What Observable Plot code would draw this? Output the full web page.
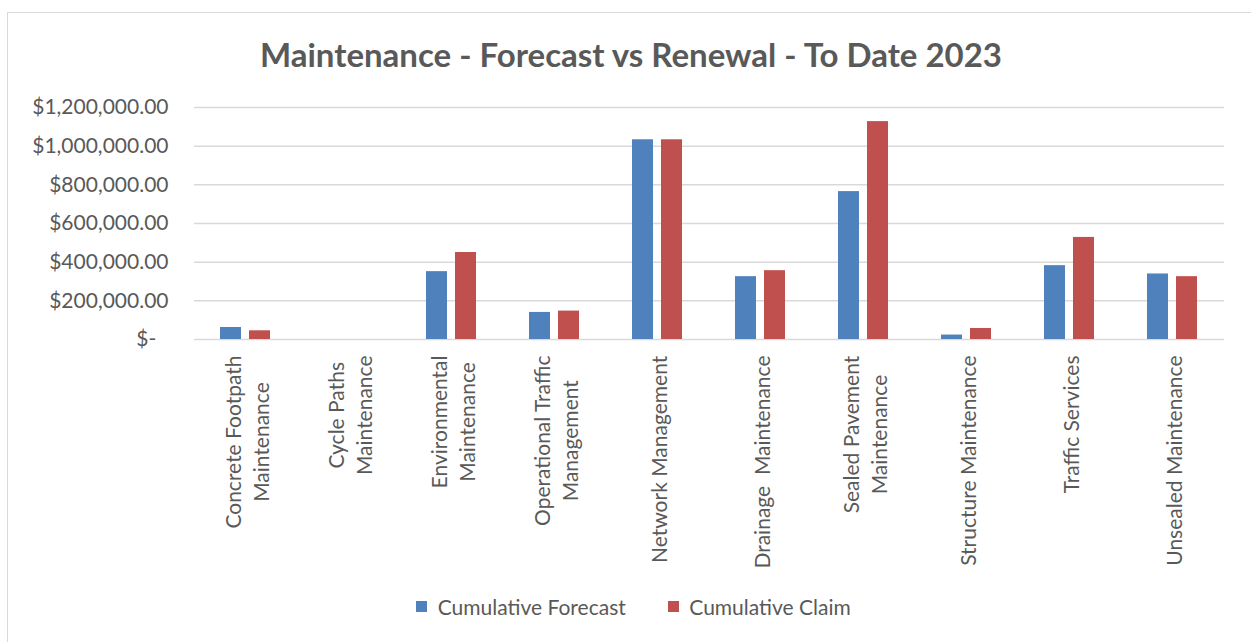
<!DOCTYPE html>
<html>
<head>
<meta charset="utf-8">
<script src="https://cdn.jsdelivr.net/npm/d3@7"></script>
<script src="https://cdn.jsdelivr.net/npm/@observablehq/plot@0.6"></script>
<style>
  html, body { margin: 0; padding: 0; background: #fff; overflow: hidden; width: 1251px; height: 642px; }
  #frame { position: absolute; left: 7px; top: 12px; width: 1260px; height: 660px; border: 1.5px solid #d9d9d9; box-sizing: border-box; }
  #title { position: absolute; left: 0; top: 34px; width: 1262px; text-align: center; font-family: Lato, sans-serif; font-weight: 700; font-size: 33px; color: #595959; }
  #chart { position: absolute; left: 0; top: 85px; }
  #legend { position: absolute; left: 11px; top: 590px; width: 1266px; display: flex; justify-content: center; }
</style>
</head>
<body>
<div id="frame"></div>
<div id="title">Maintenance - Forecast vs Renewal - To Date 2023</div>
<div id="chart"></div>
<div id="legend"></div>
<script>
const categories = [
  "Concrete Footpath\nMaintenance",
  "Cycle Paths\nMaintenance",
  "Environmental\nMaintenance",
  "Operational Traffic\nManagement",
  "Network Management",
  "Drainage  Maintenance",
  "Sealed Pavement\nMaintenance",
  "Structure Maintenance",
  "Traffic Services",
  "Unsealed Maintenance"
];
const seriesNames = ["Cumulative Forecast", "Cumulative Claim"];
const forecast = [62000, 0, 351000, 140000, 1033000, 325000, 765000, 23000, 382000, 339000];
const claim    = [45000, 0, 450000, 147000, 1033000, 356000, 1127000, 57000, 528000, 325000];
const yTicks = [0, 200000, 400000, 600000, 800000, 1000000, 1200000];
const seriesColors = ["#4F81BD", "#C0504D"];

const data = [];
categories.forEach((c, i) => {
  data.push({category: c, series: seriesNames[0], value: forecast[i]});
  data.push({category: c, series: seriesNames[1], value: claim[i]});
});

const fmt = d => d === 0 ? "$-\u2007" : "$" + d3.format(",.2f")(d);
const textColor = "#595959";

const chart = Plot.plot({
  width: 1251,
  height: 500,
  marginTop: 22,
  marginLeft: 191,
  marginRight: 24,
  marginBottom: 246,
  style: {fontFamily: "Lato, sans-serif", fontSize: "21px", color: textColor, background: "transparent", overflow: "visible"},
  fx: {domain: categories, padding: 0, label: null, axis: null},
  x: {domain: seriesNames, paddingInner: 0.267, paddingOuter: 0.86, axis: null},
  y: {domain: [0, 1200000], ticks: yTicks, label: null},
  color: {domain: seriesNames, range: seriesColors},
  marks: [
    Plot.gridY(yTicks, {stroke: "#d9d9d9", strokeOpacity: 1, strokeWidth: 1.5}),
    Plot.barY(data, {fx: "category", x: "series", y: "value", fill: "series"}),
    Plot.axisY(yTicks, {tickSize: 0, tickPadding: 26, tickFormat: fmt, fill: textColor, fontSize: 21, label: null}),
    Plot.axisFx({anchor: "bottom", tickSize: 0, tickPadding: 16, rotate: -90, textAnchor: "middle", lineAnchor: "middle", lineHeight: 1.35, fill: textColor, fontSize: 21, label: null})
  ]
});
document.getElementById("chart").appendChild(chart);

// anchor each rotated, centred label block at its top edge
chart.querySelectorAll("text").forEach(el => {
  const t = el.getAttribute("transform") || "";
  if (!/rotate\(-90\)/.test(t)) return;
  const w = el.getBBox().width;
  el.setAttribute("transform", t + ` translate(${-w / 2},0)`);
});

const legend = Plot.legend({
  color: {domain: seriesNames, range: seriesColors},
  legend: "swatches",
  swatchSize: 11,
  style: {fontFamily: "Lato, sans-serif", fontSize: "21px", color: textColor, columnGap: "21px"}
});
document.getElementById("legend").appendChild(legend);
</script>
</body>
</html>
